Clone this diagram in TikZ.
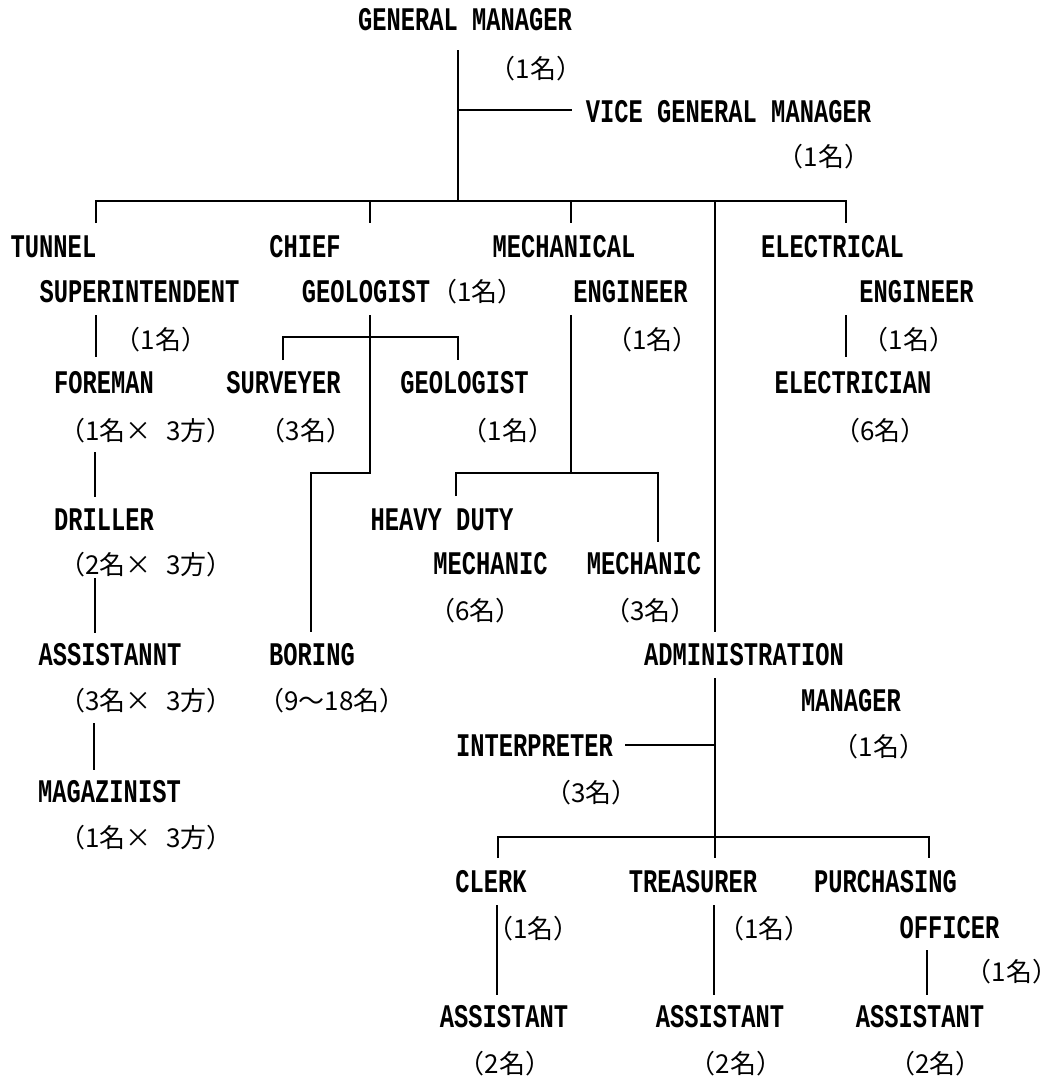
\documentclass[tikz,border=0pt]{standalone}
\usepackage{fontspec}
\newfontfamily\latf{Liberation Mono}[FakeStretch=0.72]
\newfontfamily\cjkf{Noto Sans CJK JP}[CharacterWidth=AlternateHalf]
\newcommand\xsp{\hspace{15pt}}
\tikzset{
  lat/.style={font=\latf\bfseries\fontsize{33}{33}\selectfont, inner sep=0pt, anchor=center},
  cnt/.style={font=\cjkf\fontsize{26}{26}\selectfont, inner sep=0pt, anchor=center},
  ln/.style={line width=1.8pt, line cap=butt},
}
\begin{document}
\begin{tikzpicture}[x=1pt,y=-1pt]
\useasboundingbox[fill=white] (0,0) rectangle (1059,1080);

% ---- titles ----
\node[lat] (gm) at (465,20) {GENERAL MANAGER};
\node[cnt] (gmC) at (536,69) {（1名）};
\node[lat] (vgm) at (728.5,112) {VICE GENERAL MANAGER};
\node[cnt] (vgmC) at (824,157) {（1名）};

% ---- first level ----
\node[lat] (tunnel) at (53.5,247) {TUNNEL};
\node[lat] (super) at (139.5,292) {SUPERINTENDENT};
\node[cnt] (superC) at (161,340) {（1名）};

\node[lat] (chief) at (305,247) {CHIEF};
\node[lat] (geo) at (366,292) {GEOLOGIST};
\node[cnt] (geoC) at (477.5,292) {（1名）};

\node[lat] (mech) at (564,247) {MECHANICAL};
\node[lat] (mengr) at (630.5,292) {ENGINEER};
\node[cnt] (mengrC) at (652.5,340) {（1名）};

\node[lat] (elec) at (832.5,247) {ELECTRICAL};
\node[lat] (eengr) at (916.5,292) {ENGINEER};
\node[cnt] (eengrC) at (909,340) {（1名）};

% ---- tunnel column ----
\node[lat] (foreman) at (104,383) {FOREMAN};
\node[cnt] (foremanC) at (146,431) {（1名×\xsp 3方）};
\node[lat] (driller) at (104,520) {DRILLER};
\node[cnt] (drillerC) at (146,565) {（2名×\xsp 3方）};
\node[lat] (asstn) at (110,655) {ASSISTANNT};
\node[cnt] (asstnC) at (146,701) {（3名×\xsp 3方）};
\node[lat] (magaz) at (109.5,792) {MAGAZINIST};
\node[cnt] (magazC) at (146,838) {（1名×\xsp 3方）};

% ---- geologist column ----
\node[lat] (surv) at (283.5,383) {SURVEYER};
\node[cnt] (survC) at (306,431) {（3名）};
\node[lat] (geo2) at (464.5,383) {GEOLOGIST};
\node[cnt] (geo2C) at (508,431) {（1名）};
\node[lat] (boring) at (312,655) {BORING};
\node[cnt] (boringC) at (332,701) {（9～18名）};

% ---- mechanical column ----
\node[lat] (heavy) at (442,520) {HEAVY DUTY};
\node[lat] (mechA) at (490.5,564) {MECHANIC};
\node[cnt] (mechAC) at (475.5,611) {（6名）};
\node[lat] (mechB) at (644,564) {MECHANIC};
\node[cnt] (mechBC) at (650.5,611) {（3名）};

% ---- electrical column ----
\node[lat] (electn) at (853,383) {ELECTRICIAN};
\node[cnt] (electnC) at (880.5,431) {（6名）};

% ---- administration ----
\node[lat] (admin) at (744,655) {ADMINISTRATION};
\node[lat] (adminM) at (851,701) {MANAGER};
\node[cnt] (adminC) at (879,747) {（1名）};
\node[lat] (interp) at (534.5,746) {INTERPRETER};
\node[cnt] (interpC) at (591.5,793) {（3名）};

\node[lat] (clerk) at (491,882) {CLERK};
\node[cnt] (clerkC) at (533.5,929) {（1名）};
\node[lat] (treas) at (693,882) {TREASURER};
\node[cnt] (treasC) at (764.5,929) {（1名）};
\node[lat] (purch) at (885.5,882) {PURCHASING};
\node[lat] (offic) at (949.5,928) {OFFICER};
\node[cnt] (officC) at (1012,972) {（1名）};

\node[lat] (as1) at (504,1017) {ASSISTANT};
\node[cnt] (as1C) at (505,1064) {（2名）};
\node[lat] (as2) at (720,1017) {ASSISTANT};
\node[cnt] (as2C) at (736,1064) {（2名）};
\node[lat] (as3) at (920,1017) {ASSISTANT};
\node[cnt] (as3C) at (935.5,1064) {（2名）};

% ---- junction coordinates ----
\coordinate (gmTop) at (458,50);
\coordinate (vgmJ) at (458,110);
\coordinate (vgmEnd) at (572,110);
\coordinate (busGM) at (458,201);
\coordinate (busL) at (96,201);
\coordinate (busR) at (846,201);
\coordinate (dT) at (96,223);
\coordinate (busC) at (370,201);
\coordinate (dC) at (370,223);
\coordinate (busM) at (571,201);
\coordinate (dM) at (571,223);
\coordinate (dE) at (846,223);
\coordinate (busA) at (715,201);
\coordinate (admTop) at (715,632);

\coordinate (tS) at (96,315);   \coordinate (tE) at (96,357);
\coordinate (fS) at (95,452);   \coordinate (fE) at (95,497);
\coordinate (drS) at (95,578);  \coordinate (drE) at (95,633);
\coordinate (aS) at (94,723);   \coordinate (aE) at (94,770);

\coordinate (cS) at (370,315);
\coordinate (brJ) at (370,337);
\coordinate (brL) at (283,337); \coordinate (brLd) at (283,360);
\coordinate (brR) at (458,337); \coordinate (brRd) at (458,360);
\coordinate (cK) at (370,473);
\coordinate (bK) at (311,473);
\coordinate (bE) at (311,632);

\coordinate (mS) at (571,315);
\coordinate (mK) at (571,473);
\coordinate (mL) at (456,473); \coordinate (mLd) at (456,496);
\coordinate (mR) at (658,473); \coordinate (mRd) at (658,542);

\coordinate (eS) at (846,315);  \coordinate (eE) at (846,357);

\coordinate (adS) at (715,678);
\coordinate (inJ) at (715,745);
\coordinate (inE) at (625,745);
\coordinate (abJ) at (715,837);
\coordinate (abL) at (498,837); \coordinate (abLd) at (498,858);
\coordinate (abR) at (929,837); \coordinate (abRd) at (929,858);
\coordinate (adE) at (715,858);

\coordinate (clS) at (497,905); \coordinate (clE) at (497,995);
\coordinate (trS) at (714,905); \coordinate (trE) at (714,995);
\coordinate (ofS) at (927,950); \coordinate (ofE) at (927,995);

% ---- connectors ----
\draw[ln] (gmTop) -- (busGM);
\draw[ln] (vgmJ) -- (vgmEnd);
\draw[ln] (dT) -- (busL) -- (busR) -- (dE);
\draw[ln] (busC) -- (dC);
\draw[ln] (busM) -- (dM);
\draw[ln] (busA) -- (admTop);

\draw[ln] (tS) -- (tE);
\draw[ln] (fS) -- (fE);
\draw[ln] (drS) -- (drE);
\draw[ln] (aS) -- (aE);

\draw[ln] (cS) -- (cK) -- (bK) -- (bE);
\draw[ln] (brLd) -- (brL) -- (brR) -- (brRd);

\draw[ln] (mS) -- (mK);
\draw[ln] (mLd) -- (mL) -- (mR) -- (mRd);

\draw[ln] (eS) -- (eE);

\draw[ln] (adS) -- (adE);
\draw[ln] (inJ) -- (inE);
\draw[ln] (abLd) -- (abL) -- (abR) -- (abRd);

\draw[ln] (clS) -- (clE);
\draw[ln] (trS) -- (trE);
\draw[ln] (ofS) -- (ofE);
\end{tikzpicture}
\end{document}
